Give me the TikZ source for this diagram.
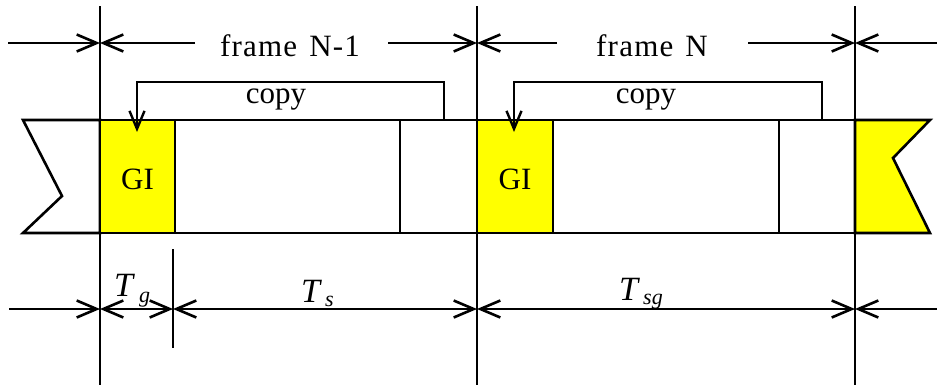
\documentclass[tikz,border=0pt]{standalone}
\usepackage{fontspec}
\setmainfont{Liberation Serif}
\newfontfamily\labfont[LetterSpace=4]{Liberation Serif}
\usetikzlibrary{arrows.meta}
\definecolor{giyellow}{RGB}{255,255,0}
\tikzset{
  ln/.style={line width=2.6pt},
  dimarrow/.style={ln,-{Straight Barb[length=20pt,width=17pt,line width=2.6pt]}},
  dimboth/.style={ln,{Straight Barb[length=20pt,width=17pt,line width=2.6pt]}-{Straight Barb[length=20pt,width=17pt,line width=2.6pt]}},
  copyarrow/.style={ln,-{Straight Barb[length=18pt,width=15pt,line width=2.4pt]}},
  lab/.style={font=\fontsize{31}{34}\selectfont, inner sep=0pt, anchor=base},
  flab/.style={font=\labfont\fontsize{31}{34}\selectfont, inner sep=0pt, anchor=base},
  tlab/.style={font=\fontsize{34}{36}\selectfont\itshape, inner sep=0pt, anchor=base west},
  slab/.style={font=\fontsize{22}{24}\selectfont\itshape, inner sep=0pt, anchor=base west},
}
\begin{document}
\begin{tikzpicture}[x=1pt,y=-1pt]
\useasboundingbox (0,0) rectangle (937,386);
% band shapes
\fill[white] (23,120) rectangle (930,233);
\draw[ln,line join=miter] (23,120) -- (100,120) -- (100,233) -- (23,233) -- (62,196) -- cycle;
\filldraw[ln,fill=giyellow] (855,120) -- (930,120) -- (893,158) -- (930,233) -- (855,233) -- cycle;
\filldraw[ln,fill=giyellow] (100,120) rectangle (175,233);
\filldraw[ln,fill=giyellow] (477,120) rectangle (553,233);
\draw[ln] (100,120) -- (855,120);
\draw[ln] (100,233) -- (855,233);
\draw[ln] (400,120) -- (400,233);
\draw[ln] (779,120) -- (779,233);
\node[lab] (gi1) at (137.5,189) {GI};
\node[lab] (gi2) at (515,189) {GI};
% long vertical lines
\coordinate (v1t) at (100,6);   \coordinate (v1b) at (100,385);
\coordinate (v2t) at (477,6);   \coordinate (v2b) at (477,385);
\coordinate (v3t) at (855,6);   \coordinate (v3b) at (855,385);
\coordinate (v4t) at (173,249); \coordinate (v4b) at (173,348);
\draw[ln] (v1t) -- (v1b);
\draw[ln] (v2t) -- (v2b);
\draw[ln] (v3t) -- (v3b);
\draw[ln] (v4t) -- (v4b);
% copy arrows
\coordinate (c1s) at (444,120); \coordinate (c1e) at (137,132);
\coordinate (c2s) at (822,120); \coordinate (c2e) at (514,132);
\draw[copyarrow] (c1s) -- (444,82) -- (137,82) -- (c1e);
\draw[copyarrow] (c2s) -- (822,82) -- (514,82) -- (c2e);
\node[lab] (copy1) at (276,103) {copy};
\node[lab] (copy2) at (646,103) {copy};
% top dimension arrows
\coordinate (a0) at (8,43);
\coordinate (a1) at (100,43);
\coordinate (a2) at (477,43);
\coordinate (a3) at (855,43);
\coordinate (a4) at (937,43);
\node[flab] (f1) at (290,56) {frame\hspace{12pt}N-1};
\node[flab] (f2) at (652,56) {frame\hspace{12pt}N};
\coordinate (f1l) at (195,43); \coordinate (f1r) at (388,43);
\coordinate (f2l) at (557,43); \coordinate (f2r) at (748,43);
\draw[dimarrow] (a0) -- (a1);
\draw[dimarrow] (f1l) -- (a1);
\draw[dimarrow] (f1r) -- (a2);
\draw[dimarrow] (f2l) -- (a2);
\draw[dimarrow] (f2r) -- (a3);
\draw[dimarrow] (a4) -- (a3);
% bottom dimension arrows
\coordinate (b0) at (9,309);
\coordinate (b1) at (100,309);
\coordinate (b2) at (173,309);
\coordinate (b3) at (477,309);
\coordinate (b4) at (855,309);
\coordinate (b5) at (937,309);
\draw[dimarrow] (b0) -- (b1);
\draw[dimboth] (b1) -- (b2);
\draw[dimboth] (b2) -- (b3);
\draw[dimboth] (b3) -- (b4);
\draw[dimarrow] (b5) -- (b4);
% labels
\node[tlab] (tg) at (114,296) {T};
\node[slab] (tgs) at (139,302) {g};
\node[tlab] (ts) at (301,302) {T};
\node[slab] (tss) at (325,306) {s};
\node[tlab] (tsg) at (619,300) {T};
\node[slab] (tsgs) at (643,304) {sg};
\end{tikzpicture}
\end{document}
